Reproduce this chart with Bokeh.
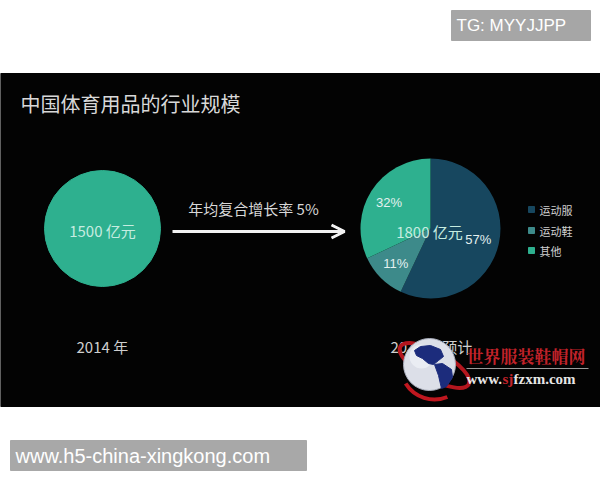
import math
from bokeh.plotting import figure
from bokeh.models import Range1d, Arrow, OpenHead
from bokeh.core.properties import value
from bokeh.embed import file_html
from bokeh.resources import INLINE

# ---- data ----
title = "中国体育用品的行业规模"
years = ["2014 年", "2018 年预计"]
totals = ["1500 亿元", "1800 亿元"]
growth_label = "年均复合增长率 5%"
categories = ["运动服", "运动鞋", "其他"]
shares = [57, 11, 32]
colors = ["#17475f", "#3d8a8a", "#2eb08f"]

W, H = 600, 480
CJK = value("Noto Sans CJK SC")
SANS = value("Liberation Sans")
SERIF = value("Liberation Serif")


def Y(ypx):
    """Convert a top-down pixel row to the plot's bottom-up data coordinate."""
    return H - ypx


p = figure(width=W, height=H, output_backend="svg", toolbar_location=None,
           x_range=Range1d(0, W), y_range=Range1d(0, H), min_border=0)
p.axis.visible = False
p.grid.visible = False
p.outline_line_color = None
p.background_fill_color = "white"
p.border_fill_color = "white"

# dark slide panel
p.quad(left=[0], right=[W], top=[Y(73)], bottom=[Y(406)], color="#030303")

# title
p.text(x=[20], y=[Y(103)], text=[title], text_font=CJK, text_font_size="20px",
       text_color="#d8d8d8", text_baseline="middle", text_align="left")

# 2014 market size: single disc
cx0, cy0, r0 = 102, 228, 58
p.circle(x=[cx0], y=[Y(cy0)], radius=r0, color=colors[2])
p.text(x=[cx0], y=[Y(cy0 + 2)], text=[totals[0]], text_font=CJK, text_font_size="15px",
       text_color="#c6ece0", text_baseline="middle", text_align="center")

# growth arrow
p.add_layout(Arrow(end=OpenHead(line_color="#f2f2f2", line_width=3, size=13),
                   x_start=172, y_start=Y(231), x_end=344, y_end=Y(231),
                   line_color="#f2f2f2", line_width=3))
p.text(x=[253], y=[Y(208)], text=[growth_label], text_font=CJK, text_font_size="15px",
       text_color="#d8d8d8", text_baseline="middle", text_align="center")

# projected market split: pie starting at 12 o'clock, clockwise
cx1, cy1, r1 = 430, 228, 70
total = float(sum(shares))
cum = 0.0
starts, ends, lx, ly = [], [], [], []
for s in shares:
    a0 = cum / total
    a1 = (cum + s) / total
    starts.append(math.pi / 2 - a0 * 2 * math.pi)
    ends.append(math.pi / 2 - a1 * 2 * math.pi)
    mid = (a0 + a1) / 2 * 2 * math.pi
    lx.append(cx1 + 0.7 * r1 * math.sin(mid))
    ly.append(Y(cy1 - 0.7 * r1 * math.cos(mid)))
    cum += s
p.wedge(x=cx1, y=Y(cy1), radius=r1, start_angle=starts, end_angle=ends,
        direction="clock", fill_color=colors, line_color=None)
p.text(x=lx, y=ly, text=[f"{s}%" for s in shares], text_font=SANS, text_font_size="13px",
       text_color="#e4f1f0", text_baseline="middle", text_align="center")
p.text(x=[cx1 - 1], y=[Y(cy1 + 3)], text=[totals[1]], text_font=CJK, text_font_size="15px",
       text_color="#c6ece0", text_baseline="middle", text_align="center")

# legend
leg_y = [Y(209), Y(230), Y(250)]
p.rect(x=[531] * 3, y=leg_y, width=6, height=6, color=colors)
p.text(x=[539] * 3, y=leg_y, text=categories, text_font=CJK, text_font_size="11px",
       text_color="#d0d0d0", text_baseline="middle", text_align="left")

# year captions
p.text(x=[76, 390], y=[Y(346), Y(346)], text=years, text_font=CJK, text_font_size="15px",
       text_color="#cfcfcf", text_baseline="middle", text_align="left")

# site logo: globe with red swoosh
p.ellipse(x=[434], y=[Y(365)], width=78, height=28, angle=-0.5,
          fill_color=None, line_color="#b3161e", line_width=4)
p.circle(x=[429], y=[Y(364)], radius=26, fill_color="#dcdfe8", line_color="#a8adbb")
p.circle(x=[421], y=[Y(356)], radius=12, fill_color="#eef0f5", line_color=None, alpha=0.8)
# continents
p.patch(x=[414, 420, 430, 440, 443, 438, 433, 428, 422, 416],
        y=[Y(350), Y(346), Y(345), Y(349), Y(356), Y(360), Y(364), Y(363), Y(358), Y(355)],
        color="#1c2c7c")
p.patch(x=[434, 442, 451, 452, 446, 441, 438],
        y=[Y(364), Y(363), Y(369), Y(377), Y(386), Y(388), Y(375)],
        color="#1c2c7c")
p.arc(x=[434], y=[Y(365)], radius=34, start_angle=3.7, end_angle=5.1,
      line_color="#c0171f", line_width=4)
p.text(x=[466], y=[Y(355)], text=["世界服装鞋帽网"], text_font=value("Noto Serif CJK SC"),
       text_font_size="17px", text_font_style="bold", text_color="#c2222a",
       text_baseline="middle", text_align="left")
p.segment(x0=[466], y0=[Y(368)], x1=[588], y1=[Y(368)], line_color="#9a9a9a", line_width=1)
p.text(x=[466, 502, 513], y=[Y(378)] * 3, text=["www.", "sj", "fzxm.com"], text_font=SERIF,
       text_font_size="15px", text_font_style="bold",
       text_color=["#e6e6e6", "#c2222a", "#e6e6e6"],
       text_baseline="middle", text_align="left")

# tag boxes
p.quad(left=[451], right=[590], top=[Y(10)], bottom=[Y(40)], color="#a6a6a6")
p.text(x=[456], y=[Y(25)], text=["TG: MYYJJPP"], text_font=SANS, text_font_size="17px",
       text_color="white", text_baseline="middle", text_align="left")
p.quad(left=[10], right=[306], top=[Y(440)], bottom=[Y(470)], color="#a8a8a8")
p.text(x=[15], y=[Y(455)], text=["www.h5-china-xingkong.com"], text_font=SANS,
       text_font_size="20px", text_color="white", text_baseline="middle", text_align="left")

open("out.html", "w").write(file_html(p, INLINE))
